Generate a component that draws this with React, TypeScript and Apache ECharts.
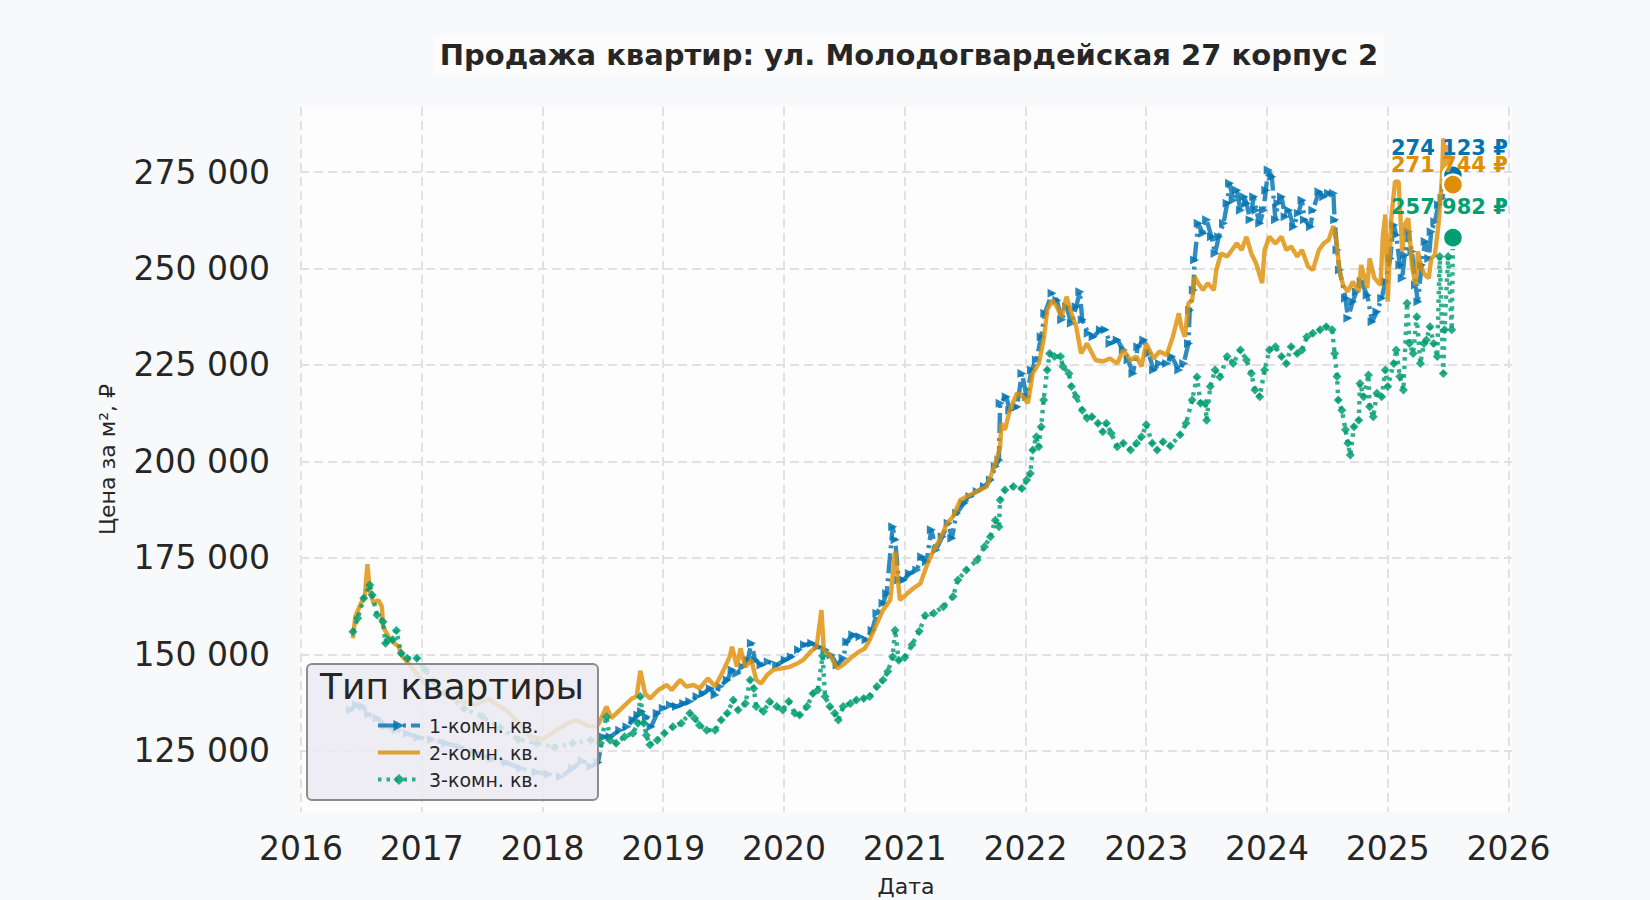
import { useEffect, useRef } from 'react'
import * as echarts from 'echarts'

type Point = [number, number]

// [decimal year, price per m², ₽]
const oneRoom: Point[] = [
  [2016.41, 135600], [2016.46, 137000], [2016.51, 136500], [2016.56, 134500], [2016.63, 133500],
  [2016.7, 131500], [2016.79, 130500], [2016.88, 129500], [2016.97, 128500], [2017.08, 128000],
  [2017.2, 127000], [2017.32, 126000], [2017.45, 124500], [2017.58, 123000], [2017.7, 122000],
  [2017.82, 120500], [2017.95, 119500], [2018.05, 119000], [2018.15, 118300], [2018.25, 120500],
  [2018.33, 122500], [2018.4, 121000], [2018.46, 122000], [2018.5, 128700], [2018.56, 128700],
  [2018.64, 130400], [2018.7, 131300], [2018.75, 133000], [2018.79, 134300], [2018.82, 135200],
  [2018.86, 133900], [2018.9, 131300], [2018.95, 134750], [2019.0, 136100], [2019.06, 136900],
  [2019.11, 136500], [2019.17, 137300], [2019.22, 137800], [2019.28, 139100], [2019.33, 139900],
  [2019.39, 141200], [2019.43, 139500], [2019.47, 141700], [2019.53, 143400], [2019.57, 146000],
  [2019.61, 145100], [2019.66, 146800], [2019.7, 148600], [2019.73, 152900], [2019.76, 148600],
  [2019.81, 147300], [2019.87, 148100], [2019.94, 147300], [2020.01, 148600], [2020.06, 149400],
  [2020.12, 151200], [2020.17, 152500], [2020.23, 152900], [2020.28, 152000], [2020.34, 151200],
  [2020.39, 149900], [2020.44, 147300], [2020.49, 149000], [2020.52, 153300], [2020.57, 155100],
  [2020.63, 154600], [2020.68, 153800], [2020.73, 156300], [2020.77, 160700], [2020.82, 163300],
  [2020.85, 165800], [2020.9, 183100], [2020.92, 179700], [2020.95, 169300], [2020.99, 169300],
  [2021.04, 171000], [2021.1, 171900], [2021.14, 175300], [2021.18, 174000], [2021.22, 182300],
  [2021.26, 177100], [2021.31, 180500], [2021.36, 184000], [2021.39, 180100], [2021.43, 186600],
  [2021.49, 189200], [2021.54, 190900], [2021.6, 192200], [2021.66, 193500], [2021.71, 195200],
  [2021.75, 198700], [2021.78, 200400], [2021.79, 215100], [2021.84, 216800], [2021.87, 213300],
  [2021.93, 214200], [2021.97, 222800], [2022.01, 216800], [2022.05, 223700], [2022.09, 226300],
  [2022.13, 232300], [2022.16, 238400], [2022.22, 243600], [2022.26, 241800], [2022.3, 236700],
  [2022.34, 240100], [2022.38, 235800], [2022.42, 240100], [2022.45, 244000], [2022.47, 236700],
  [2022.52, 233200], [2022.56, 232300], [2022.62, 234100], [2022.66, 234100], [2022.7, 230600],
  [2022.76, 231500], [2022.81, 228900], [2022.85, 226300], [2022.89, 222800], [2022.93, 229700],
  [2022.98, 231500], [2023.02, 228000], [2023.06, 223700], [2023.11, 225400], [2023.17, 225400],
  [2023.21, 227200], [2023.27, 223700], [2023.31, 225400], [2023.35, 230600], [2023.36, 239200],
  [2023.39, 244400], [2023.4, 252200], [2023.43, 261700], [2023.47, 259100], [2023.5, 262600],
  [2023.54, 258200], [2023.57, 253900], [2023.6, 258200], [2023.64, 261700], [2023.67, 266900],
  [2023.69, 272100], [2023.72, 267700], [2023.75, 270300], [2023.78, 265100], [2023.81, 268600],
  [2023.83, 266900], [2023.86, 262600], [2023.89, 268600], [2023.91, 265100], [2023.94, 261700],
  [2023.97, 265100], [2023.99, 270300], [2024.01, 275500], [2024.04, 273800], [2024.07, 262600],
  [2024.09, 266900], [2024.12, 268600], [2024.15, 263400], [2024.18, 265100], [2024.22, 260800],
  [2024.26, 264300], [2024.29, 267700], [2024.31, 262600], [2024.36, 260800], [2024.38, 265100],
  [2024.43, 269900], [2024.47, 268600], [2024.51, 269500], [2024.55, 269500], [2024.56, 262600],
  [2024.58, 254800], [2024.6, 249600], [2024.65, 242300], [2024.67, 237100], [2024.71, 241400],
  [2024.74, 244000], [2024.78, 246600], [2024.83, 243100], [2024.87, 236200], [2024.91, 238800],
  [2024.95, 242300], [2024.98, 246600], [2025.02, 252600], [2025.05, 261300], [2025.07, 258700],
  [2025.1, 250900], [2025.12, 247500], [2025.14, 253500], [2025.17, 259500], [2025.2, 254400],
  [2025.23, 245700], [2025.25, 241400], [2025.28, 250900], [2025.31, 257000], [2025.34, 252600],
  [2025.36, 259500], [2025.39, 262100], [2025.42, 266500], [2025.45, 268200], [2025.47, 270800],
  [2025.5, 274200], [2025.54, 274123],
]

const twoRoom: Point[] = [
  [2016.43, 154200], [2016.45, 159800], [2016.49, 162800], [2016.53, 165400], [2016.55, 173400],
  [2016.57, 166700], [2016.6, 163300], [2016.64, 164100], [2016.67, 162400], [2016.68, 157200],
  [2016.74, 153800], [2016.81, 152000], [2016.83, 149900], [2016.89, 147700], [2016.97, 144500],
  [2017.08, 141000], [2017.2, 139500], [2017.32, 138000], [2017.45, 137000], [2017.55, 138500],
  [2017.6, 137400], [2017.7, 135500], [2017.8, 132500], [2017.9, 128700], [2018.0, 128000],
  [2018.1, 130000], [2018.2, 132000], [2018.28, 133000], [2018.38, 131500], [2018.45, 131300],
  [2018.48, 133000], [2018.53, 136500], [2018.57, 133500], [2018.64, 135600], [2018.74, 138600],
  [2018.78, 139100], [2018.81, 145800], [2018.85, 139900], [2018.89, 138600], [2018.96, 140800],
  [2019.03, 142100], [2019.07, 140800], [2019.14, 143400], [2019.19, 141700], [2019.25, 142100],
  [2019.3, 141200], [2019.37, 143800], [2019.43, 141700], [2019.5, 146000], [2019.55, 149400],
  [2019.57, 152000], [2019.61, 146800], [2019.64, 151600], [2019.68, 146800], [2019.73, 148600],
  [2019.77, 143400], [2019.81, 142500], [2019.86, 144700], [2019.91, 146000], [2019.98, 146400],
  [2020.05, 146800], [2020.11, 147700], [2020.16, 148600], [2020.22, 150700], [2020.27, 152000],
  [2020.31, 161500], [2020.33, 151200], [2020.38, 149900], [2020.44, 146400], [2020.49, 147300],
  [2020.55, 149000], [2020.62, 150700], [2020.67, 151600], [2020.71, 153800], [2020.77, 158100],
  [2020.82, 161500], [2020.88, 164100], [2020.92, 176600], [2020.96, 164100], [2021.02, 165800],
  [2021.07, 167100], [2021.13, 168400], [2021.18, 172800], [2021.24, 177100], [2021.29, 179700],
  [2021.35, 184000], [2021.4, 185700], [2021.46, 190000], [2021.51, 190900], [2021.57, 191800],
  [2021.62, 192600], [2021.68, 193500], [2021.72, 196900], [2021.76, 200400], [2021.79, 203800],
  [2021.8, 209900], [2021.83, 208200], [2021.87, 213300], [2021.93, 217700], [2021.98, 216800],
  [2022.02, 215100], [2022.06, 222800], [2022.11, 225400], [2022.15, 231500], [2022.18, 239200],
  [2022.22, 241800], [2022.26, 240100], [2022.3, 237500], [2022.34, 242700], [2022.38, 238400],
  [2022.42, 234900], [2022.46, 228000], [2022.51, 230600], [2022.58, 226300], [2022.64, 225900],
  [2022.7, 226700], [2022.76, 225400], [2022.81, 228900], [2022.87, 226300], [2022.92, 227200],
  [2022.96, 224600], [2023.0, 230600], [2023.06, 226700], [2023.11, 228500], [2023.17, 227600],
  [2023.22, 232300], [2023.27, 238400], [2023.29, 234900], [2023.32, 232300], [2023.35, 241000],
  [2023.38, 241800], [2023.4, 247900], [2023.43, 246200], [2023.47, 244400], [2023.51, 246200],
  [2023.56, 244400], [2023.58, 249600], [2023.62, 253900], [2023.67, 253100], [2023.71, 254800],
  [2023.75, 256500], [2023.79, 254800], [2023.83, 258200], [2023.87, 253900], [2023.91, 251300],
  [2023.96, 246200], [2023.98, 254800], [2024.02, 258200], [2024.07, 256500], [2024.12, 258200],
  [2024.16, 254800], [2024.2, 255700], [2024.25, 253100], [2024.29, 254800], [2024.34, 250500],
  [2024.38, 249600], [2024.43, 254800], [2024.47, 256500], [2024.51, 257400], [2024.55, 261000],
  [2024.58, 256000], [2024.6, 249500], [2024.63, 245700], [2024.67, 244000], [2024.71, 246600],
  [2024.76, 244000], [2024.78, 250900], [2024.83, 244900], [2024.85, 252600], [2024.89, 247500],
  [2024.94, 245700], [2024.96, 258700], [2024.98, 264000], [2025.0, 241400], [2025.03, 263000],
  [2025.06, 272500], [2025.09, 272500], [2025.12, 254400], [2025.14, 261300], [2025.17, 263000],
  [2025.2, 250900], [2025.23, 245700], [2025.25, 254400], [2025.28, 250000], [2025.31, 248300],
  [2025.34, 247500], [2025.36, 252600], [2025.39, 253500], [2025.42, 261300], [2025.45, 274200],
  [2025.46, 283700], [2025.49, 269900], [2025.5, 282000], [2025.53, 272500], [2025.54, 271744],
]

const threeRoom: Point[] = [
  [2016.43, 155900], [2016.47, 159400], [2016.52, 164600], [2016.57, 168000], [2016.59, 165400],
  [2016.63, 160200], [2016.68, 158500], [2016.7, 152900], [2016.72, 153800], [2016.76, 153800],
  [2016.79, 156200], [2016.83, 150300], [2016.88, 149000], [2016.96, 149000], [2017.03, 146000],
  [2017.1, 143000], [2017.2, 140000], [2017.35, 136000], [2017.5, 134000], [2017.65, 131000],
  [2017.8, 128000], [2017.95, 127000], [2018.1, 126000], [2018.25, 127000], [2018.4, 127800],
  [2018.48, 127000], [2018.53, 133900], [2018.56, 127800], [2018.61, 127000], [2018.68, 128700],
  [2018.75, 129600], [2018.79, 132200], [2018.81, 139100], [2018.84, 132200], [2018.86, 129100],
  [2018.89, 126600], [2018.95, 127800], [2019.01, 129600], [2019.08, 131300], [2019.15, 132200],
  [2019.22, 134750], [2019.26, 133500], [2019.3, 131700], [2019.36, 130400], [2019.43, 130400],
  [2019.48, 133000], [2019.53, 134750], [2019.58, 138200], [2019.62, 135600], [2019.68, 137300],
  [2019.72, 143400], [2019.75, 141200], [2019.77, 136500], [2019.83, 135200], [2019.88, 137800],
  [2019.94, 136500], [2019.99, 135600], [2020.04, 137800], [2020.09, 134750], [2020.13, 134300],
  [2020.19, 136500], [2020.24, 139900], [2020.28, 140800], [2020.32, 149600], [2020.34, 139100],
  [2020.38, 136500], [2020.42, 134750], [2020.45, 133000], [2020.49, 136500], [2020.55, 137300],
  [2020.6, 138200], [2020.66, 138600], [2020.71, 139100], [2020.77, 141700], [2020.82, 143400],
  [2020.86, 145600], [2020.9, 149400], [2020.92, 156300], [2020.95, 148500], [2021.0, 149200],
  [2021.06, 152500], [2021.12, 156000], [2021.17, 160100], [2021.24, 160700], [2021.32, 162400],
  [2021.4, 165000], [2021.44, 169300], [2021.51, 171900], [2021.6, 174500], [2021.66, 177900],
  [2021.71, 180500], [2021.75, 184800], [2021.78, 183100], [2021.79, 190000], [2021.83, 192600],
  [2021.9, 193500], [2021.97, 193000], [2022.01, 195200], [2022.04, 196900], [2022.06, 203000],
  [2022.09, 206400], [2022.11, 203800], [2022.13, 209000], [2022.15, 215900], [2022.18, 223700],
  [2022.2, 228000], [2022.24, 227200], [2022.29, 227200], [2022.31, 224600], [2022.36, 222800],
  [2022.38, 219400], [2022.42, 216800], [2022.47, 213300], [2022.51, 211200], [2022.55, 211600],
  [2022.6, 209900], [2022.64, 207700], [2022.67, 209900], [2022.71, 207300], [2022.76, 203800],
  [2022.81, 204700], [2022.87, 203000], [2022.92, 204700], [2022.96, 206400], [2023.0, 209500],
  [2023.05, 204700], [2023.09, 203000], [2023.14, 205100], [2023.2, 204000], [2023.28, 206900],
  [2023.33, 209900], [2023.38, 215900], [2023.42, 221900], [2023.45, 215100], [2023.49, 215100],
  [2023.5, 210700], [2023.53, 219400], [2023.57, 223700], [2023.61, 221900], [2023.67, 227200],
  [2023.72, 225400], [2023.78, 228900], [2023.83, 226300], [2023.87, 222800], [2023.9, 218500],
  [2023.94, 216800], [2023.98, 223700], [2024.02, 228900], [2024.07, 229700], [2024.12, 227200],
  [2024.16, 225400], [2024.2, 229700], [2024.25, 228000], [2024.29, 228900], [2024.33, 232300],
  [2024.38, 233200], [2024.44, 234100], [2024.49, 234900], [2024.54, 234100], [2024.56, 228000],
  [2024.58, 222000], [2024.59, 215900], [2024.62, 213300], [2024.65, 208200], [2024.67, 204700],
  [2024.69, 201700], [2024.72, 209000], [2024.76, 210700], [2024.77, 220200], [2024.8, 216800],
  [2024.84, 222400], [2024.85, 214200], [2024.88, 211600], [2024.91, 217700], [2024.95, 216800],
  [2024.98, 223700], [2025.0, 219400], [2025.05, 225400], [2025.07, 228900], [2025.1, 222000],
  [2025.13, 218500], [2025.16, 241000], [2025.18, 230600], [2025.21, 228000], [2025.24, 237500],
  [2025.27, 225400], [2025.3, 230600], [2025.32, 231500], [2025.35, 234900], [2025.38, 230600],
  [2025.41, 227200], [2025.43, 253100], [2025.46, 222800], [2025.47, 234100], [2025.5, 253100],
  [2025.53, 234100], [2025.54, 257982],
]

const seriesNames = ['1-комн. кв.', '2-комн. кв.', '3-комн. кв.']
const seriesColors = ['#0173b2', '#de8f05', '#029e73']
const lastDate = 2025.54
const lastPrices = [274123, 271744, 257982]
const yearTicks = [2016, 2017, 2018, 2019, 2020, 2021, 2022, 2023, 2024, 2025, 2026]
const priceTicks = [125000, 150000, 175000, 200000, 225000, 250000, 275000]

const FONT = '"DejaVu Sans", sans-serif'
const INK = '#262626'

const fmt = (v: number) => Math.round(v).toString().replace(/\B(?=(\d{3})+(?!\d))/g, ' ')

// label offsets (px) of the end-of-series annotations
const labelOffsets = [[-62, -27], [-62, -20], [-62, -31]]

const App = () => {
  const chartRef = useRef<HTMLDivElement>(null)

  useEffect(() => {
    if (!chartRef.current) return
    const chart = echarts.init(chartRef.current, undefined, { renderer: 'svg' })

    const lineStyles = [
      { type: [20, 5, 3, 5], symbol: 'triangle', symbolRotate: -90, symbolSize: 9 },
      { type: 'solid', symbol: 'none', symbolRotate: 0, symbolSize: 0 },
      { type: [3.5, 5], symbol: 'diamond', symbolRotate: 0, symbolSize: 9 },
    ]
    const datasets = [oneRoom, twoRoom, threeRoom]

    const lineSeries = datasets.map((data, i) => ({
      name: seriesNames[i],
      type: 'line',
      data,
      z: 2 + i,
      symbol: lineStyles[i].symbol,
      symbolSize: lineStyles[i].symbolSize,
      symbolRotate: lineStyles[i].symbolRotate,
      showSymbol: lineStyles[i].symbol !== 'none',
      lineStyle: {
        color: seriesColors[i],
        width: 4.4,
        type: lineStyles[i].type,
        opacity: 0.82,
      },
      itemStyle: { color: seriesColors[i], opacity: 0.85, borderWidth: 0 },
      emphasis: { disabled: true },
      silent: true,
    }))

    const option = {
      animation: false,
      backgroundColor: '#f8f9fa',
      textStyle: { fontFamily: FONT },
      title: {
        text: 'Продажа квартир: ул. Молодогвардейская 27 корпус 2',
        left: 903,
        textAlign: 'center',
        top: 35,
        backgroundColor: '#fcfcfd',
        padding: [5, 6],
        textStyle: { fontFamily: FONT, fontSize: 29, fontWeight: 'bold', color: INK },
      },
      grid: {
        left: 300,
        top: 107,
        width: 1212,
        height: 705,
        show: true,
        backgroundColor: '#fdfdfd',
        borderWidth: 0,
        containLabel: false,
        outerBoundsMode: 'none',
      },
      legend: {
        data: seriesNames.map((name, i) =>
          i === 1
            ? { name, itemStyle: { opacity: 0 }, lineStyle: { width: 4 } }
            : { name, lineStyle: { width: 4 } }
        ),
        orient: 'vertical',
        left: 371,
        top: 711,
        itemGap: 8,
        itemWidth: 42,
        itemHeight: 14,
        selectedMode: false,
        z: 20,
        textStyle: { fontFamily: FONT, fontSize: 19, color: INK, padding: [0, 0, 0, 4] },
      },
      xAxis: {
        type: 'value',
        min: 2015.992,
        max: 2026.029,
        name: 'Дата',
        nameLocation: 'middle',
        nameGap: 63,
        nameTextStyle: { fontFamily: FONT, fontSize: 22, color: INK },
        axisLine: { show: false },
        axisTick: { show: false, customValues: yearTicks },
        axisLabel: {
          customValues: yearTicks,
          formatter: (v: number) => String(Math.round(v)),
          fontFamily: FONT,
          fontSize: 33,
          color: INK,
          margin: 20,
        },
        splitLine: { show: true, lineStyle: { color: '#e1e1e1', width: 2, type: [9, 5] } },
      },
      yAxis: {
        type: 'value',
        min: 109195,
        max: 291840,
        name: 'Цена за м², ₽',
        nameLocation: 'middle',
        nameGap: 182,
        nameTextStyle: { fontFamily: FONT, fontSize: 22, color: INK },
        axisLine: { show: false },
        axisTick: { show: false, customValues: priceTicks },
        axisLabel: {
          customValues: priceTicks,
          formatter: (v: number) => fmt(v),
          fontFamily: FONT,
          fontSize: 33,
          color: INK,
          margin: 30,
        },
        splitLine: { show: true, lineStyle: { color: '#e1e1e1', width: 2, type: [9, 5] } },
      },
      graphic: [
        {
          type: 'rect',
          z: 10,
          shape: { x: 307, y: 664, width: 291, height: 136, r: 5 },
          style: { fill: 'rgba(234,234,241,0.86)', stroke: '#8c8c8c', lineWidth: 2 },
        },
        {
          type: 'text',
          z: 11,
          x: 452,
          y: 686,
          style: {
            text: 'Тип квартиры',
            fontFamily: FONT,
            fontSize: 36,
            fill: INK,
            align: 'center',
            verticalAlign: 'middle',
          },
        },
      ],
      series: [
        ...lineSeries,
        {
          name: 'last',
          type: 'scatter',
          z: 6,
          silent: true,
          symbolSize: 20,
          data: lastPrices.map((p, i) => ({
            value: [lastDate, p],
            itemStyle: {
              color: seriesColors[i],
              opacity: 1,
              borderColor: '#ffffff',
              borderWidth: 2.5,
            },
            label: {
              show: true,
              position: 'inside',
              offset: labelOffsets[i],
              align: 'left',
              verticalAlign: 'middle',
              formatter: `${fmt(p)} ₽`,
              fontFamily: FONT,
              fontSize: 21,
              fontWeight: 'bold',
              color: seriesColors[i],
            },
          })),
        },
      ],
    }

    chart.setOption(option as Record<string, unknown>)

    return () => {
      chart.dispose()
    }
  }, [])

  return (
    <div
      ref={chartRef}
      style={{ position: 'fixed', left: 0, top: 0, width: '1650px', height: '900px' }}
    />
  )
}

export default App
